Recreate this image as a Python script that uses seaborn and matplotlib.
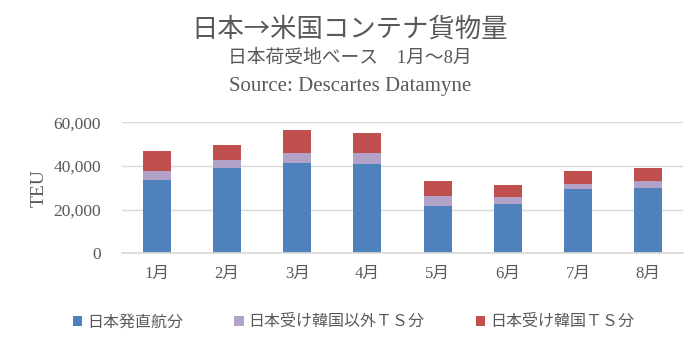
import matplotlib
matplotlib.use("Agg")
import matplotlib.pyplot as plt
from matplotlib.patches import Patch
from matplotlib.ticker import FuncFormatter
import seaborn as sns
import pandas as pd
import numpy as np

months = ["1月", "2月", "3月", "4月", "5月", "6月", "7月", "8月"]
direct = [33600, 39200, 41500, 40900, 21500, 22700, 29600, 30000]
ts_other = [4200, 3500, 4600, 5200, 4700, 3100, 2100, 3100]
ts_korea = [9000, 6900, 10400, 8900, 7000, 5500, 6000, 6100]
series_names = ["日本発直航分", "日本受け韓国以外ＴＳ分", "日本受け韓国ＴＳ分"]
colors = ["#4F81BD", "#B3A2C7", "#C0504D"]

sns.set_theme(style="white")
FAM = ["Liberation Serif", "Noto Sans CJK JP", "DejaVu Sans"]
plt.rcParams["font.family"] = FAM
TXT = "#595959"

df = pd.DataFrame({"month": months, "direct": direct, "other": ts_other, "korea": ts_korea})
df["lvl1"] = df["direct"]
df["lvl2"] = df["direct"] + df["other"]
df["lvl3"] = df["lvl2"] + df["korea"]

fig = plt.figure(figsize=(7, 3.4), dpi=100)
ax = fig.add_axes([0.174, 0.255, 0.802, 0.385])

for col, c in zip(["lvl3", "lvl2", "lvl1"], [colors[2], colors[1], colors[0]]):
    sns.barplot(data=df, x="month", y=col, color=c, width=0.4, ax=ax,
                saturation=1, edgecolor="none", linewidth=0)

ax.set_ylim(0, 60000)
ax.set_yticks([0, 20000, 40000, 60000])
ax.yaxis.set_major_formatter(FuncFormatter(lambda v, p: f"{int(v):,}"))
ax.grid(axis="y", color="#D9D9D9", linewidth=1)
ax.set_axisbelow(True)
for s in ["left", "right", "top"]:
    ax.spines[s].set_visible(False)
ax.spines["bottom"].set_color("#D9D9D9")
ax.tick_params(axis="both", length=0, colors=TXT)
ax.tick_params(axis="y", pad=15, labelsize=12.5)
ax.tick_params(axis="x", pad=9, labelsize=12)
ax.set_xlabel("")
ax.set_ylabel("TEU", color=TXT, fontsize=14, labelpad=4)
ax.set_xlim(-0.5, 7.5)

fig.text(0.5, 0.915, "日本→米国コンテナ貨物量", ha="center", va="center", fontsize=19, color=TXT,
         family=["Noto Sans CJK JP", "DejaVu Sans"])
fig.text(0.5, 0.828, "日本荷受地ベース　1月～8月", ha="center", va="center", fontsize=13.5, color=TXT)
fig.text(0.5, 0.745, "Source: Descartes Datamyne", ha="center", va="center", fontsize=15, color=TXT)

handles = [Patch(facecolor=c, edgecolor="none", label=n) for c, n in zip(colors, series_names)]
fig.legend(handles=handles, loc="center", bbox_to_anchor=(0.505, 0.052), ncol=3, frameon=False,
           fontsize=11.5, handlelength=0.6, handleheight=0.6, handletextpad=0.3,
           columnspacing=3.2, labelcolor=TXT)

fig.savefig("out.png", dpi=100)
